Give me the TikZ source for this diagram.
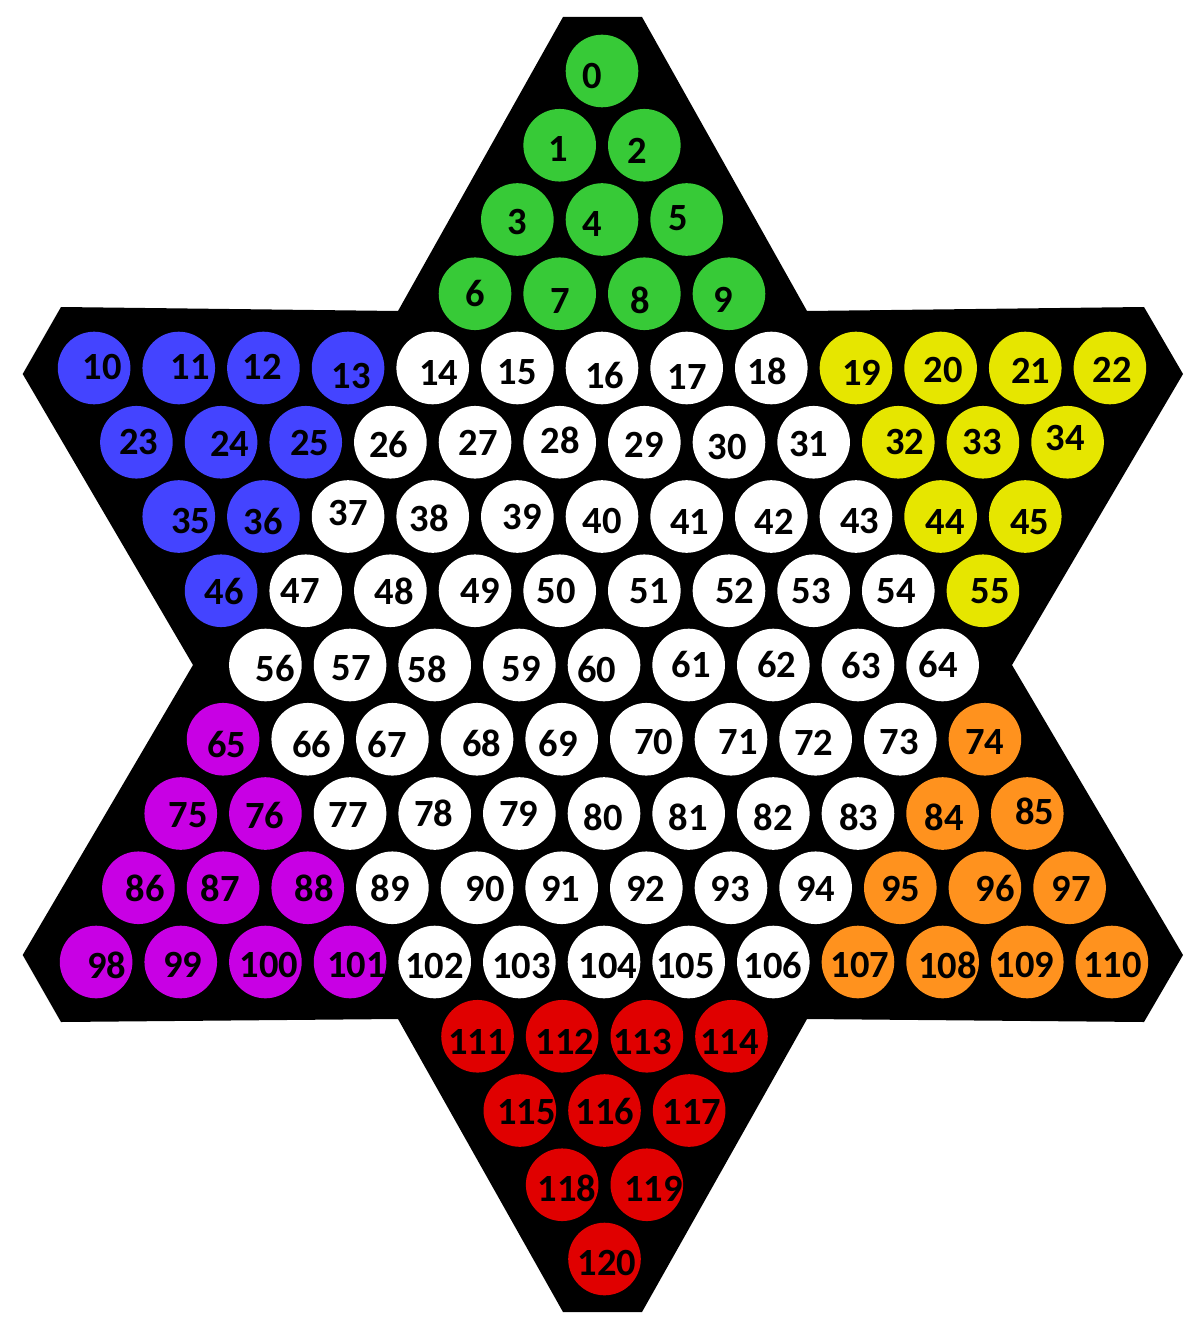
\documentclass[tikz,border=0pt]{standalone}
\usepackage{fontspec}
\setmainfont{Carlito}
\definecolor{pG}{RGB}{55,202,55}
\definecolor{pB}{RGB}{68,68,255}
\definecolor{pY}{RGB}{230,230,0}
\definecolor{pP}{RGB}{200,0,228}
\definecolor{pO}{RGB}{255,146,30}
\definecolor{pR}{RGB}{224,0,0}
\definecolor{pW}{RGB}{255,255,255}
\def\pieces{0/0/0/G/592.7/76,
1/1/-1/G/558.3/149.5, 2/1/1/G/637.2/151,
3/2/-2/G/517.2/222, 4/2/0/G/592/224, 5/2/2/G/678/218,
6/3/-3/G/475/294, 7/3/-1/G/560.5/301, 8/3/1/G/640/300, 9/3/3/G/723.5/300,
10/4/-12/B/102/366.7, 11/4/-10/B/190/366.7, 12/4/-8/B/262.5/367, 13/4/-6/B/351/376.5,
14/4/-4/W/438.7/372.5, 15/4/-2/W/517.3/371.7, 16/4/0/W/604.7/375.8, 17/4/2/W/687/377.2,
18/4/4/W/767.5/371.7, 19/4/6/Y/861.7/372.5, 20/4/8/Y/943.3/369.7, 21/4/10/Y/1030.8/370.5,
22/4/12/Y/1112/369.7,
23/5/-11/B/138.7/441.7, 24/5/-9/B/229.7/443.7, 25/5/-7/B/309.7/442.8, 26/5/-5/W/388.7/444.5,
27/5/-3/W/478/442.5, 28/5/-1/W/560/440.5, 29/5/1/W/644.2/445, 30/5/3/W/727.2/446.8,
31/5/5/W/808.7/444.5, 32/5/7/Y/904.7/442, 33/5/9/Y/982/442, 34/5/11/Y/1065.3/438.3,
35/6/-10/B/190.8/521, 36/6/-8/B/263/521, 37/6/-6/W/348/513.3, 38/6/-4/W/429.5/518.8,
39/6/-2/W/522.2/517.2, 40/6/0/W/602.5/521.2, 41/6/2/W/689.7/522.2, 42/6/4/W/774.5/522.2,
43/6/6/W/859.8/521.5, 44/6/8/Y/945/522.5, 45/6/10/Y/1029.5/522,
46/7/-9/B/224.5/591, 47/7/-7/W/300.5/591, 48/7/-5/W/394.5/591, 49/7/-3/W/480/591.3,
50/7/-1/W/556.2/591.3, 51/7/1/W/649.5/591.3, 52/7/3/W/734.7/591.3, 53/7/5/W/811/591.3,
54/7/7/W/896/591.3, 55/7/9/Y/990/591.3,
56/8/-8/W/275.3/668.3, 57/8/-6/W/351/668.3, 58/8/-4/W/427.2/669.2, 59/8/-2/W/521.3/669.5,
60/8/0/W/596.8/669.5, 61/8/2/W/691.3/664.7, 62/8/4/W/776.8/664.7, 63/8/6/W/861.3/665,
64/8/8/W/938/664.7,
65/9/-9/P/226.8/744, 66/9/-7/W/311.8/744, 67/9/-5/W/387.5/744, 68/9/-3/W/481.8/743,
69/9/-1/W/558.2/743, 70/9/1/W/653.8/742.2, 71/9/3/W/738.3/742.2, 72/9/5/W/813.8/742.5,
73/9/7/W/899.3/742.5, 74/9/9/O/984.7/742.5,
75/10/-10/P/188.3/815, 76/10/-8/P/264.7/815, 77/10/-6/W/348.3/815, 78/10/-4/W/433.8/813.8,
79/10/-2/W/518.8/813.8, 80/10/0/W/603.5/817.2, 81/10/2/W/688.3/817.2, 82/10/4/W/773.5/817.2,
83/10/6/W/858.7/817.2, 84/10/8/O/944.2/817.8, 85/10/10/O/1034.7/811,
86/11/-11/P/145/888.7, 87/11/-9/P/220.5/888.7, 88/11/-7/P/314.5/888.7, 89/11/-5/W/390.5/888.7,
90/11/-3/W/485.2/888.8, 91/11/-1/W/560.8/888.8, 92/11/1/W/645.8/888.8, 93/11/3/W/730.5/888.8,
94/11/5/W/815.8/888.7, 95/11/7/O/900.5/888.7, 96/11/9/O/995.2/888.7, 97/11/11/O/1071.2/888.7,
98/12/-12/P/106.7/965.3, 99/12/-10/P/182.8/965.3, 100/12/-8/P/269.2/965.3, 101/12/-6/P/356.7/965.3,
102/12/-4/W/434.3/965.5, 103/12/-2/W/521.7/965.5, 104/12/0/W/608/965.5, 105/12/2/W/685.7/965.5,
106/12/4/W/773/965.5, 107/12/6/O/860/965.3, 108/12/8/O/947.3/965.3, 109/12/10/O/1025/965.3,
110/12/12/O/1112.3/965.3,
111/13/-3/R/477.3/1041.7, 112/13/-1/R/565/1041.7, 113/13/1/R/642.7/1041.7, 114/13/3/R/729.5/1041.7,
115/14/-2/R/526.7/1111.8, 116/14/0/R/605/1111.8, 117/14/2/R/692/1111.8,
118/15/-1/R/567/1188.5, 119/15/1/R/653.7/1188.5,
120/16/0/R/607/1262.5}
\tikzset{
  hole/.style={circle, draw=none, inner sep=0pt, minimum size=72.6pt},
  num/.style={inner sep=0pt, text=black, font=\fontsize{38.5}{40}\selectfont\bfseries}
}
\begin{document}
\begin{tikzpicture}[x=1pt, y=-1pt]
\useasboundingbox (0,0) rectangle (1200,1337);
\fill[white] (0,0) rectangle (1200,1337);
% board
\fill[black] (563,17) -- (642,17) -- (807,311) -- (1144,307) -- (1183,374) -- (1012,665)
  -- (1183,955) -- (1144,1022) -- (807,1019) -- (642,1312) -- (563,1312) -- (398,1019)
  -- (61,1022) -- (22.7,955) -- (193,665) -- (22.7,374) -- (61,307) -- (398,311) -- cycle;
% holes
\foreach \n/\r/\c/\col/\lx/\ly in \pieces {
  \pgfmathsetmacro\xc{\r<8 ? 602 : (\r<13 ? 604 : 604.5)}
  \pgfmathsetmacro\cx{\xc + \c*42.325}
  \pgfmathsetmacro\cy{71 + 74.25*\r}
  \node[hole, fill=p\col] (c\n) at (\cx,\cy) {};
}
% numbers
\foreach \n/\r/\c/\col/\lx/\ly in \pieces {
  \node[num] (t\n) at (\lx,\ly) {\n};
}
\end{tikzpicture}
\end{document}
